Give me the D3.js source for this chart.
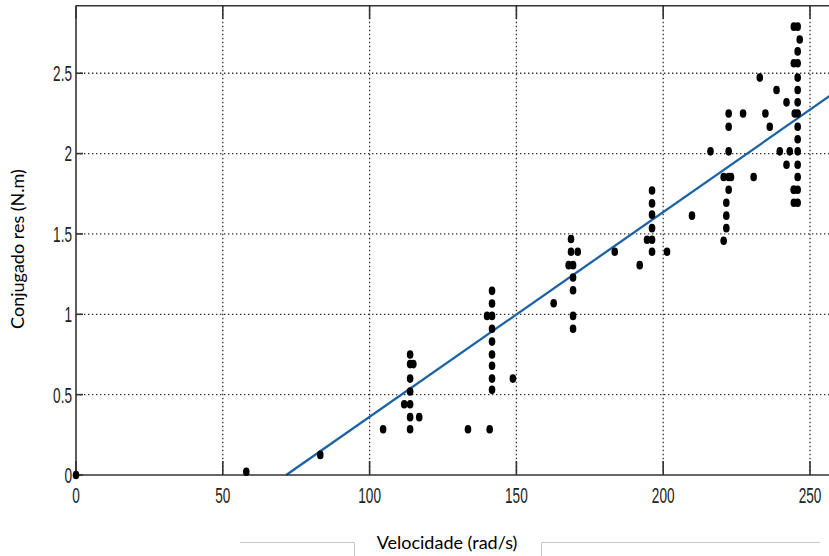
<!DOCTYPE html>
<html><head><meta charset="utf-8">
<script src="https://cdn.jsdelivr.net/npm/d3@7"></script>
<style>body{margin:0;background:#fff;}svg{display:block;}</style>
</head><body>
<svg id="c" width="829" height="556"></svg>
<script>
// Data
const velocidade = [0, 58.0, 83.2, 104.6,
  113.8, 113.8, 114.9, 113.8, 113.8, 111.8, 113.8, 113.8, 116.9, 113.8,
  141.7, 141.7, 141.7, 140.0, 141.7, 141.7, 141.7, 141.7, 141.7, 141.7, 148.8, 133.5, 140.9,
  168.6, 168.6, 170.9, 167.8, 169.3, 169.3, 169.3, 162.7, 169.3, 169.3, 183.5, 192.0,
  196.2, 196.2, 196.2, 196.2, 194.5, 196.2, 196.2, 201.3, 209.8,
  222.3, 222.3, 222.3, 216.1, 222.3, 220.6, 223.1, 222.3, 221.5, 221.5, 221.5, 220.6, 227.2, 230.8,
  234.8, 236.3, 232.9, 238.6, 242.0, 239.7, 243.1, 242.0, 244.5,
  245.8, 246.5, 245.8, 245.8, 245.8, 245.8, 245.8, 245.8, 245.8, 245.8, 245.8, 245.8, 245.8, 245.8, 245.8,
  244.5, 244.5, 244.8, 244.5, 244.5];
const conjugado = [0, 0.02, 0.125, 0.285,
  0.75, 0.69, 0.69, 0.60, 0.52, 0.44, 0.44, 0.36, 0.36, 0.285,
  1.146, 1.067, 0.99, 0.99, 0.91, 0.83, 0.75, 0.68, 0.60, 0.53, 0.60, 0.285, 0.285,
  1.469, 1.389, 1.389, 1.306, 1.306, 1.229, 1.15, 1.069, 0.99, 0.91, 1.389, 1.306,
  1.77, 1.69, 1.62, 1.536, 1.464, 1.464, 1.389, 1.389, 1.614,
  2.25, 2.167, 2.014, 2.014, 1.854, 1.854, 1.854, 1.775, 1.694, 1.614, 1.536, 1.458, 2.25, 1.854,
  2.25, 2.167, 2.473, 2.396, 2.319, 2.014, 2.014, 1.931, 1.775,
  2.79, 2.71, 2.636, 2.5625, 2.473, 2.396, 2.319, 2.25, 2.167, 2.089, 2.014, 1.931, 1.854, 1.775, 1.694,
  2.79, 2.5625, 2.25, 1.775, 1.694];
const fitX = [71.6, 262];
const fitY = [0, 2.426];
const xTicks = [0, 50, 100, 150, 200, 250];
const yTicks = [0, 0.5, 1, 1.5, 2, 2.5];
const xTitle = "Velocidade (rad/s)";
const yTitle = "Conjugado res (N.m)";

const svg = d3.select("#c");
const x = d3.scaleLinear().domain([0, 260]).range([76, 76 + 260 * 2.936]);
const y = d3.scaleLinear().domain([0, 2.92]).range([475, 475 - 2.92 * 160.7]);
const x0 = 76, x1 = 835, yTop = y(2.92), yBot = 475;

// grid
const g = svg.append("g");
g.selectAll("line.gx").data(xTicks.filter(d => d > 0)).join("line")
  .attr("x1", d => x(d)).attr("x2", d => x(d)).attr("y1", yTop).attr("y2", yBot)
  .attr("stroke", "#333").attr("stroke-width", 1.3).attr("stroke-dasharray", "1.4,2.6");
g.selectAll("line.gy").data(yTicks.filter(d => d > 0)).join("line")
  .attr("y1", d => y(d)).attr("y2", d => y(d)).attr("x1", x0).attr("x2", x1)
  .attr("stroke", "#333").attr("stroke-width", 1.3).attr("stroke-dasharray", "1.4,2.6");

// regression line
const line = d3.line().x(d => x(d[0])).y(d => y(d[1]));
svg.append("path").datum(fitX.map((v, i) => [v, fitY[i]]))
  .attr("d", line).attr("fill", "none").attr("stroke", "#1c63a6").attr("stroke-width", 2.3);

// axes frame
const ax = svg.append("g").attr("stroke", "#333").attr("stroke-width", 1.6);
ax.append("line").attr("x1", x0).attr("x2", x0).attr("y1", yTop).attr("y2", yBot);
ax.append("line").attr("x1", x0).attr("x2", x1).attr("y1", yBot).attr("y2", yBot);
ax.append("line").attr("x1", x0).attr("x2", x1).attr("y1", yTop).attr("y2", yTop);
// ticks
ax.selectAll("line.tb").data(xTicks).join("line")
  .attr("x1", d => x(d)).attr("x2", d => x(d)).attr("y1", yBot).attr("y2", yBot - 14);
ax.selectAll("line.tt").data(xTicks).join("line")
  .attr("x1", d => x(d)).attr("x2", d => x(d)).attr("y1", yTop).attr("y2", yTop + 13);
ax.selectAll("line.tl").data(yTicks).join("line")
  .attr("y1", d => y(d)).attr("y2", d => y(d)).attr("x1", x0).attr("x2", x0 + 7);

// points
svg.append("g").selectAll("ellipse").data(velocidade.map((v, i) => [v, conjugado[i]])).join("ellipse")
  .attr("cx", d => x(d[0])).attr("cy", d => y(d[1])).attr("rx", 3.3).attr("ry", 4.3).attr("fill", "#000");

// tick labels
const fmt = d => String(d);
svg.append("g").selectAll("text").data(xTicks).join("text")
  .attr("transform", d => `translate(${x(d)},${495}) scale(0.85,1.42)`)
  .attr("text-anchor", "middle").attr("dominant-baseline", "central")
  .attr("font-family", "Liberation Sans, Arial, sans-serif").attr("font-size", 16).attr("fill", "#222")
  .text(fmt);
svg.append("g").selectAll("text").data(yTicks).join("text")
  .attr("transform", d => `translate(${72},${y(d)}) scale(0.85,1.42)`)
  .attr("text-anchor", "end").attr("dominant-baseline", "central")
  .attr("font-family", "Liberation Sans, Arial, sans-serif").attr("font-size", 16).attr("fill", "#222")
  .text(fmt);

// axis titles
svg.append("text").attr("x", 447).attr("y", 549).attr("text-anchor", "middle")
  .attr("font-family", "Lato, Open Sans, sans-serif").attr("font-size", 18).attr("fill", "#000").text(xTitle);
svg.append("text").attr("transform", "translate(24,249) rotate(-90)").attr("text-anchor", "middle")
  .attr("font-family", "Lato, Open Sans, sans-serif").attr("font-size", 18).attr("fill", "#000").text(yTitle);

// decorative frame lines below
const dec = svg.append("g").attr("stroke", "#c8c8c8").attr("stroke-width", 1).attr("fill", "none");
dec.append("path").attr("d", "M240,542.5H354.5V556");
dec.append("path").attr("d", "M820,542.5H541.5V556");
</script>
</body></html>
